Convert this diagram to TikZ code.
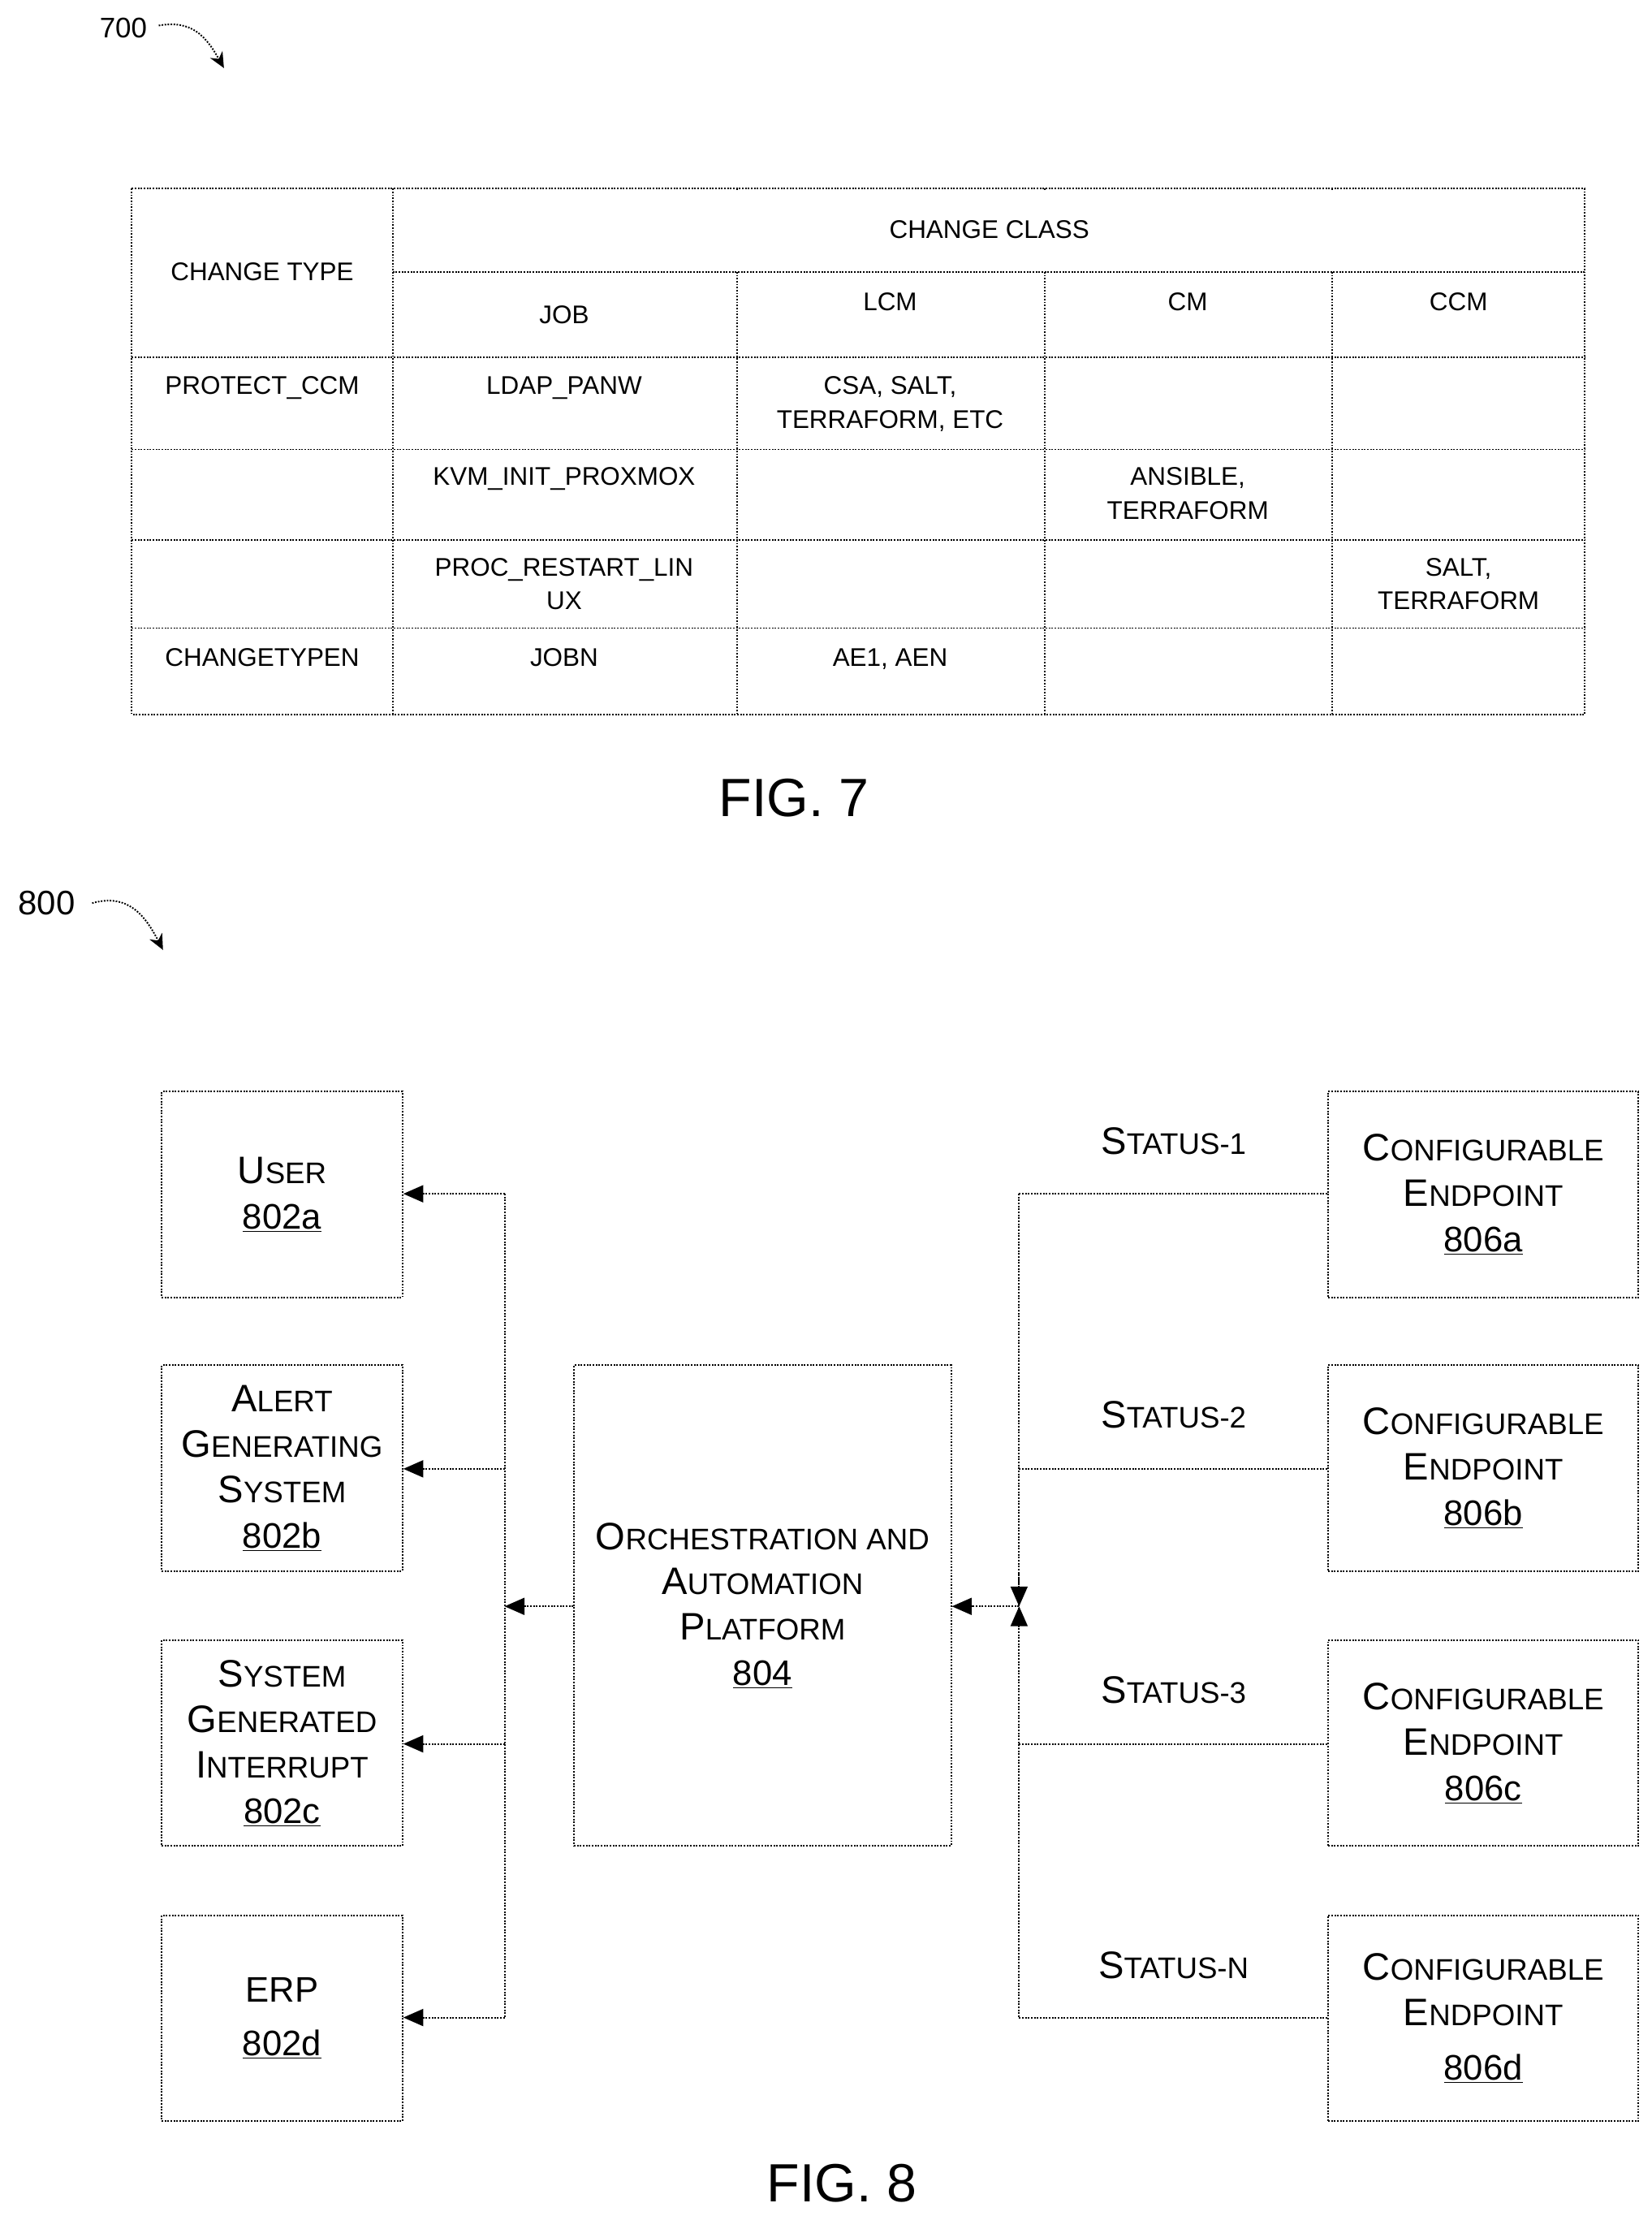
\documentclass[tikz,border=0pt]{standalone}
\usepackage{fontspec}
\setmainfont{Liberation Sans}
\usetikzlibrary{arrows.meta}
\newcommand\scx[2]{{\fontsize{27}{32}\selectfont #1}{\fontsize{21}{32}\selectfont #2}}
\newcommand\ul[1]{\underline{\fontsize{25}{32}\selectfont #1}}
\begin{document}
\begin{tikzpicture}[x=1pt,y=-1pt,
 dl/.style={densely dotted,line width=1.1pt},
 box/.style={dl,draw,minimum width=170pt,minimum height=145pt,align=center,font=\fontsize{25}{32}\selectfont},
 tt/.style={font=\fontsize{18}{24}\selectfont,align=center,anchor=north},
 arr/.style={dl,-{Triangle[width=12pt,length=14pt]}},
 lab/.style={font=\fontsize{24}{28}\selectfont}]
\useasboundingbox (0,0) rectangle (1165,1563);
% ---- FIG 7
\node[lab,font=\fontsize{20}{24}\selectfont] (l700) at (87,20) {700};
\coordinate (a700) at (158,48);
\draw[arr,-{Stealth[width=10pt,length=11pt]}] (112,18) .. controls (135,14) and (145,25) .. (a700);
\draw[dl] (93,133) rectangle (1118,504);
\foreach \x in {277,520,737,940} \draw[dl] (\x,133) -- (\x,504);
\draw[dl] (277,192) -- (1118,192);
\foreach \y in {252,317,381,443} \draw[dl] (93,\y) -- (1118,\y);
\path[dl,fill=white] (278,134) rectangle (1117,191);
\draw[dl] (93,133) -- (1118,133);
\node[tt] (cc) at (698,152) {CHANGE CLASS};
\node[tt] (ct) at (185,182) {CHANGE TYPE};
\node[tt] at (398,212) {JOB};
\node[tt] at (628,203) {LCM};
\node[tt] at (838,203) {CM};
\node[tt] at (1029,203) {CCM};
\node[tt] at (185,262) {PROTECT\_CCM};
\node[tt] at (398,262) {LDAP\_PANW};
\node[tt] at (628,262) {CSA, SALT,\\TERRAFORM, ETC};
\node[tt] at (398,326) {KVM\_INIT\_PROXMOX};
\node[tt] at (838,326) {ANSIBLE,\\TERRAFORM};
\node[tt] at (398,390) {PROC\_RESTART\_LIN\\UX};
\node[tt] at (1029,390) {SALT,\\TERRAFORM};
\node[tt] at (185,454) {CHANGETYPEN};
\node[tt] at (398,454) {JOBN};
\node[tt] at (628,454) {AE1, AEN};
\node[font=\fontsize{38}{40}\selectfont] (f7) at (560,563) {FIG. 7};
% ---- FIG 8
\node[lab] (l800) at (33,637) {800};
\coordinate (a800) at (115,670);
\draw[arr,-{Stealth[width=10pt,length=11pt]}] (65,637) .. controls (90,630) and (102,645) .. (a800);
\node[box] (u) at (199,842.5) {\scx{U}{SER}\\\ul{802a}};
\node[box] (a) at (199,1035.5) {\scx{A}{LERT}\\\scx{G}{ENERATING}\\\scx{S}{YSTEM}\\\ul{802b}};
\node[box] (s) at (199,1229.5) {\scx{S}{YSTEM}\\\scx{G}{ENERATED}\\\scx{I}{NTERRUPT}\\\ul{802c}};
\node[box] (e) at (199,1423.5) {ERP\\[6pt]\ul{802d}};
\node[box,minimum width=266pt,minimum height=339pt] (p) at (538,1132.5) {\scx{O}{RCHESTRATION AND}\\\scx{A}{UTOMATION}\\\scx{P}{LATFORM}\\\ul{804}};
\node[box,minimum width=219pt] (c1) at (1046.5,842.5) {\scx{C}{ONFIGURABLE}\\\scx{E}{NDPOINT}\\\ul{806a}};
\node[box,minimum width=219pt] (c2) at (1046.5,1035.5) {\scx{C}{ONFIGURABLE}\\\scx{E}{NDPOINT}\\\ul{806b}};
\node[box,minimum width=219pt] (c3) at (1046.5,1229.5) {\scx{C}{ONFIGURABLE}\\\scx{E}{NDPOINT}\\\ul{806c}};
\node[box,minimum width=219pt] (c4) at (1046.5,1423.5) {\scx{C}{ONFIGURABLE}\\\scx{E}{NDPOINT}\\[6pt]\ul{806d}};
% left trunk
\coordinate (lj) at (356,1133);
\coordinate (lt) at (356,842);
\coordinate (lb) at (356,1423);
\draw[dl] (lt) -- (lb);
\draw[arr] (lt) -- (u.east|-lt);
\draw[arr] (356,1036) -- (a.east|-{(0,1036)});
\draw[arr] (356,1230) -- (s.east|-{(0,1230)});
\draw[arr] (lb) -- (e.east|-lb);
\draw[arr] (p.west|-lj) -- (lj);
% right trunk
\coordinate (rj) at (719,1133);
\coordinate (rt) at (719,842);
\coordinate (rb) at (719,1423);
\draw[dl] (rt) -- (rb);
\draw[dl] (rt) -- (c1.west|-rt);
\draw[dl] (719,1036) -- (c2.west|-{(0,1036)});
\draw[dl] (719,1230) -- (c3.west|-{(0,1230)});
\draw[dl] (rb) -- (c4.west|-rb);
\draw[arr] (rj) -- (p.east|-rj);
\draw[arr] (719,1110) -- (rj);
\draw[arr] (719,1156) -- (rj);
\foreach \n/\y/\t in {s1/805/1,s2/998/2,s3/1192/3,s4/1386/N}
  \node (\n) at (828,\y) {\scx{S}{TATUS-\t}};
\node[font=\fontsize{38}{40}\selectfont] (f8) at (594,1540) {FIG. 8};
\end{tikzpicture}
\end{document}
